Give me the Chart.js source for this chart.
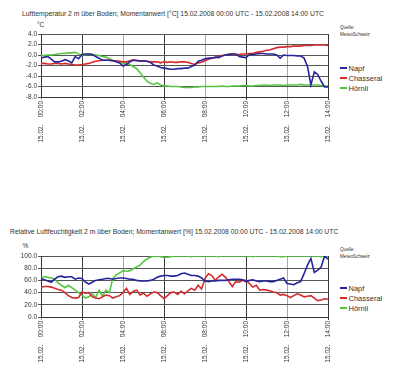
<!DOCTYPE html>
<html lang="de">
<head>
<meta charset="UTF-8">
<title>Lufttemperatur / Luftfeuchtigkeit 15.02.2008</title>
<script src="https://cdn.jsdelivr.net/npm/chart.js@4"></script>
<style>
  body { margin: 0; background: #fff; font-family: "Liberation Sans", Arial, sans-serif; color: #333; }
  #wrap { position: relative; width: 400px; height: 370px; overflow: hidden; }
  canvas { position: absolute; left: 0; }
  .txt { position: absolute; white-space: pre; line-height: 1; }
  .titel { font-size: 6.8px; }
  .einheit { font-size: 6.5px; }
  .quelle { font-size: 4.6px; line-height: 7px; left: 340px; }
  .legende { position: absolute; left: 340px; font-size: 7.5px; }
  .legende div { height: 10px; line-height: 10px; white-space: nowrap; }
  .strich { display: inline-block; width: 7px; height: 2px; vertical-align: middle; margin-right: 1.5px; position: relative; top: -1px; }
</style>
</head>
<body>
<div id="wrap">
  <div class="txt titel" style="left:22px; top:10.5px">Lufttemperatur 2 m über Boden; Momentanwert [°C] 15.02.2008 00:00 UTC - 15.02.2008 14:00 UTC</div>
  <div class="txt einheit" style="left:37px; top:21.5px">°C</div>
  <div class="txt quelle" style="top:24px">Quelle:<br>MeteoSchweiz</div>
  <div class="legende" id="leg1" style="top:64px"></div>
  <canvas id="grafik_temp" width="400" height="185" style="top:0"></canvas>

  <div class="txt titel" style="left:10px; top:229px">Relative Luftfeuchtigkeit 2 m über Boden; Momentanwert [%] 15.02.2008 00:00 UTC - 15.02.2008 14:00 UTC</div>
  <div class="txt einheit" style="left:22.5px; top:242.5px">%</div>
  <div class="txt quelle" style="top:245.5px">Quelle:<br>MeteoSchweiz</div>
  <div class="legende" id="leg2" style="top:283.5px"></div>
  <canvas id="grafik_feuchte" width="400" height="185" style="top:185px"></canvas>
</div>
<script>
// Zeitpunkte (10-Minuten-Werte, 15.02.2008 UTC)
const zeiten = [
  '00:00','00:10','00:20','00:30','00:40','00:50','01:00','01:10','01:20','01:30','01:40','01:50',
  '02:00','02:10','02:20','02:30','02:40','02:50','03:00','03:10','03:20','03:30','03:40','03:50',
  '04:00','04:10','04:20','04:30','04:40','04:50','05:00','05:10','05:20','05:30','05:40','05:50',
  '06:00','06:10','06:20','06:30','06:40','06:50','07:00','07:10','07:20','07:30','07:40','07:50',
  '08:00','08:10','08:20','08:30','08:40','08:50','09:00','09:10','09:20','09:30','09:40','09:50',
  '10:00','10:10','10:20','10:30','10:40','10:50','11:00','11:10','11:20','11:30','11:40','11:50',
  '12:00','12:10','12:20','12:30','12:40','12:50','13:00','13:10','13:20','13:30','13:40','13:50',
  '14:00'
];
const stationen = ['Napf', 'Chasseral', 'Hörnli'];
const farben = ['#25259c', '#d32b2b', '#55c443'];

// Lufttemperatur [°C]
const tempNapf = [
  -0.6,-0.4,-0.3,-0.8,-1.3,-1.3,-1.2,-0.9,-1.1,-1.5,-0.3,-0.7,
  0.1,0.2,0.2,0.1,-0.3,-0.6,-1.0,-1.0,-1.0,-1.1,-1.3,-1.5,
  -2.1,-1.8,-1.3,-1.0,-1.1,-1.2,-1.1,-1.2,-1.4,-1.9,-2.1,-2.4,
  -2.5,-2.6,-2.7,-2.7,-2.6,-2.6,-2.5,-2.5,-2.2,-1.9,-1.2,-1.0,
  -0.7,-0.6,-0.6,-0.4,-0.5,-0.2,0.0,0.1,0.2,0.2,-0.3,-0.4,
  -0.5,0.1,0.1,0.2,0.3,0.3,0.2,0.2,0.2,0.0,-0.6,0.0,
  -0.1,-0.1,-0.1,-0.2,-0.2,-0.6,-2.2,-5.7,-3.2,-3.7,-5.0,-6.1,
  -6.1
];
const tempChasseral = [
  -1.6,-1.6,-1.7,-1.7,-1.6,-1.6,-1.7,-1.6,-1.7,-1.8,-1.9,-1.9,
  -1.8,-1.7,-1.6,-1.4,-1.2,-1.1,-1.0,-1.0,-1.0,-1.1,-1.1,-1.2,
  -1.3,-1.3,-1.1,-0.9,-1.0,-1.1,-1.1,-1.2,-1.3,-1.3,-1.3,-1.5,
  -1.3,-1.4,-1.3,-1.4,-1.4,-1.3,-1.3,-1.4,-1.6,-1.8,-1.5,-1.4,
  -1.1,-0.8,-0.6,-0.5,-0.3,-0.1,0.0,0.2,0.2,0.1,0.1,0.2,
  0.2,0.3,0.3,0.5,0.6,0.7,0.9,1.0,1.2,1.4,1.5,1.5,
  1.6,1.6,1.7,1.7,1.7,1.8,1.8,1.8,1.9,1.9,1.9,1.9,
  1.8
];
const tempHoernli = [
  -0.1,-0.1,0.0,0.0,0.1,0.2,0.3,0.3,0.4,0.4,0.5,0.2,
  0.0,0.1,0.2,0.1,0.0,-0.1,-0.3,-0.4,-0.7,-1.0,-1.2,-1.3,
  -1.5,-1.6,-1.8,-2.2,-2.6,-3.4,-4.2,-5.0,-5.4,-5.6,-5.3,-5.7,
  -5.9,-5.9,-6.0,-6.0,-6.0,-6.1,-6.2,-6.2,-6.2,-6.1,-6.1,-6.0,
  -6.0,-6.0,-6.0,-6.0,-6.0,-5.9,-6.0,-6.0,-5.9,-5.9,-5.9,-5.8,
  -5.8,-5.9,-5.9,-5.8,-5.8,-5.7,-5.7,-5.8,-5.7,-5.7,-5.7,-5.8,
  -5.7,-5.7,-5.7,-5.7,-5.6,-5.7,-5.7,-5.7,-5.7,-5.7,-5.8,-5.9,
  -5.9
];

// Relative Luftfeuchtigkeit [%]
const feuchteNapf = [
  63,61,59,57,62,66,67,65,66,66,62,64,
  63,57,54,57,60,61,62,63,63,62,63,64,
  64,63,62,62,60,59,59,59,60,62,65,67,
  68,68,67,67,68,71,72,70,68,68,67,64,
  59,58,59,59,60,60,60,61,62,62,62,61,
  58,60,61,59,58,59,59,58,58,60,62,64,
  55,54,53,56,58,71,85,96,73,77,82,100,
  95
];
const feuchteChasseral = [
  49,50,50,49,47,45,44,40,35,32,31,32,
  41,39,40,33,31,30,33,36,35,31,33,35,
  40,47,37,42,44,36,39,34,38,41,40,35,
  30,35,40,41,37,42,38,43,47,44,52,46,
  63,71,68,60,66,70,65,58,50,58,57,60,
  60,55,49,52,44,45,44,43,41,40,36,37,
  35,32,35,38,36,33,34,35,31,27,28,30,
  29
];
const feuchteHoernli = [
  66,66,65,64,62,56,52,48,52,48,44,40,
  36,31,33,38,32,44,34,44,40,63,69,72,
  76,75,76,79,82,85,91,95,98,100,100,99,
  98,98,99,100,100,100,100,100,99,100,100,100,
  100,100,100,100,99,100,100,100,100,100,100,100,
  100,100,99,100,100,100,100,100,100,100,99,99,
  100,100,100,100,100,100,100,100,100,100,99,100,
  100
];

// Achsen
const tempMin = -8, tempMax = 4, tempSchritt = 2;
const feuchteMin = 0, feuchteMax = 100, feuchteSchritt = 20;
const datumPrefix = '15.02.    ';

Chart.defaults.font.family = '"Liberation Sans", Arial, sans-serif';
Chart.defaults.font.size = 6.5;
Chart.defaults.color = '#333';

const gitterX = (ctx) => {
  const v = ctx.tick ? ctx.tick.value : 0;
  if (v % 12 !== 0) return 'rgba(0,0,0,0)';
  return v % 24 === 12 ? '#3a3a3a' : '#a8a8a8';
};

const baueGrafik = (canvasId, reihen, yMin, yMax, ySchritt, padTop, xHoehe) => {
  new Chart(document.getElementById(canvasId), {
    type: 'line',
    data: {
      labels: zeiten,
      datasets: reihen.map((werte, i) => ({
        label: stationen[i],
        data: werte,
        borderColor: farben[i],
        borderWidth: 1.6,
        pointRadius: 0,
        tension: 0,
        fill: false
      }))
    },
    options: {
      responsive: false,
      animation: false,
      devicePixelRatio: 1,
      layout: { padding: { top: padTop, right: 72, bottom: 0, left: 0 } },
      plugins: { legend: { display: false }, tooltip: { enabled: false }, title: { display: false } },
      scales: {
        x: {
          type: 'category',
          offset: false,
          afterFit: (s) => { s.height = xHoehe; },
          border: { color: '#333', width: 1 },
          grid: { offset: false, color: gitterX, tickColor: gitterX, tickLength: 3 },
          ticks: {
            autoSkip: false,
            minRotation: 90,
            maxRotation: 90,
            padding: 1,
            callback: function (val) {
              const t = this.getLabelForValue(val);
              if (t.slice(3) !== '00' || parseInt(t, 10) % 2 !== 0) return null;
              return datumPrefix + t;
            }
          }
        },
        y: {
          min: yMin,
          max: yMax,
          afterFit: (s) => { s.width = 41; },
          border: { color: '#333', width: 1 },
          grid: { color: '#555', tickColor: '#555', tickLength: 3 },
          ticks: {
            stepSize: ySchritt,
            autoSkip: false,
            maxTicksLimit: 20,
            padding: 1,
            callback: (v) => v.toFixed(1)
          }
        }
      }
    }
  });
};

baueGrafik('grafik_temp', [tempNapf, tempChasseral, tempHoernli], tempMin, tempMax, tempSchritt, 34, 88);
baueGrafik('grafik_feuchte', [feuchteNapf, feuchteChasseral, feuchteHoernli], feuchteMin, feuchteMax, feuchteSchritt, 71, 53);

// Legenden
['leg1', 'leg2'].forEach((id) => {
  const el = document.getElementById(id);
  stationen.forEach((name, i) => {
    const zeile = document.createElement('div');
    const s = document.createElement('span');
    s.className = 'strich';
    s.style.background = farben[i];
    zeile.appendChild(s);
    zeile.appendChild(document.createTextNode(name));
    el.appendChild(zeile);
  });
});
</script>
</body>
</html>
